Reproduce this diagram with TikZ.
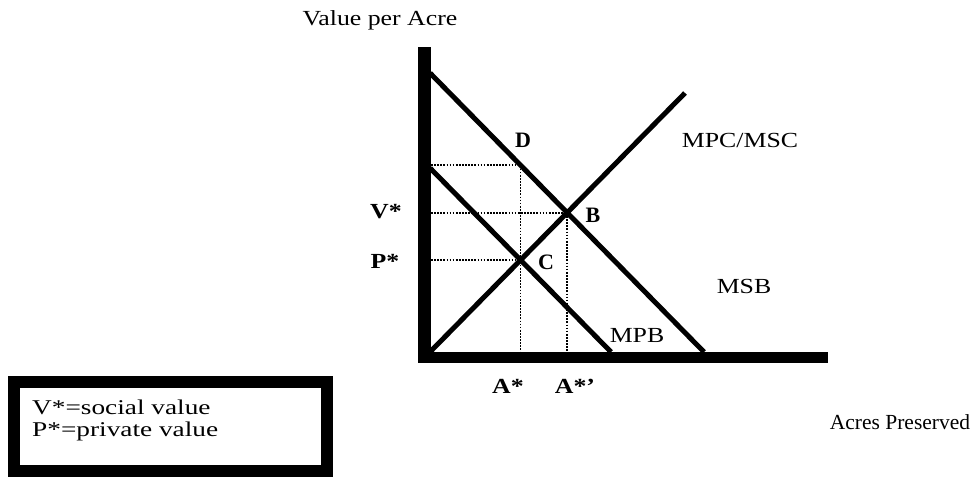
\documentclass[tikz,border=0pt]{standalone}
\usepackage{fontspec}
\setmainfont{Liberation Serif}
\newfontfamily\widefont{Liberation Serif}[FakeStretch=1.2]
\newfontfamily\widerfont{Liberation Serif}[FakeStretch=1.3]
\usetikzlibrary{intersections}
\begin{document}
\begin{tikzpicture}[x=1pt,y=-1pt,
  lbl/.style={inner sep=0pt,font=\fontsize{21.5}{24}\widefont},
  blbl/.style={inner sep=0pt,font=\fontsize{21.5}{24}\widefont\bfseries},
  letter/.style={inner sep=0pt,font=\fontsize{22}{24}\selectfont\bfseries},
  curve/.style={line width=5pt,line cap=butt},
  guide/.style={line width=1.9pt,dash pattern=on 1.7pt off 1.4pt}]
\useasboundingbox (0,0) rectangle (970,477);
% curve paths
\path[name path=msb] (430,73) -- (704,352);
\path[name path=mpb] (430,168) -- (611,352);
\path[name path=mpc] (430,352) -- (685,93);
\path[name intersections={of=mpc and msb,by=B}];
\path[name intersections={of=mpc and mpb,by=C}];
\path[name path=vert] (520.5,60) -- (520.5,360);
\path[name intersections={of=vert and msb,by=D}];
\coordinate (YA) at (431,0);
\coordinate (XA) at (0,352);
% dotted guides
\draw[guide] (YA |- D) -- (D) -- (D |- XA);
\draw[guide] (YA |- B) -- (B) -- (B |- XA);
\draw[guide] (YA |- C) -- (C);
% curves
\draw[curve] (430,73) -- (704,352);
\draw[curve] (430,168) -- (611,352);
\draw[curve] (430,352) -- (685,93);
% axes
\draw[line width=13pt] (424,47) -- (424,362);
\draw[line width=11pt] (418,357) -- (828,357);
% labels
\node[lbl] (title) at (380,20) {Value per Acre};
\node[inner sep=0pt,font=\fontsize{21.5}{24}\selectfont] (xlabel) at (900,422) {Acres Preserved};
\node[lbl] (mpcl) at (740,140) {MPC/MSC};
\node[lbl] (msbl) at (744,286) {MSB};
\node[lbl] (mpbl) at (637,335) {MPB};
\node[letter] (dl) at (523,140) {D};
\node[letter] (bl) at (593,215) {B};
\node[letter] (cl) at (546,262) {C};
\node[blbl] (vl) at (386,212) {V*};
\node[blbl] (pl) at (385,261) {P*};
\node[blbl] (al) at (508,386) {A*};
\node[blbl] (apl) at (575,386) {A*\textquoteright};
% legend
\draw[line width=12pt] (14,382) rectangle (327,471);
\node[inner sep=0pt,anchor=north west,align=left,font=\fontsize{21}{22}\widerfont] (legend) at (32,400) {V*=social value\\P*=private value};
\end{tikzpicture}
\end{document}
